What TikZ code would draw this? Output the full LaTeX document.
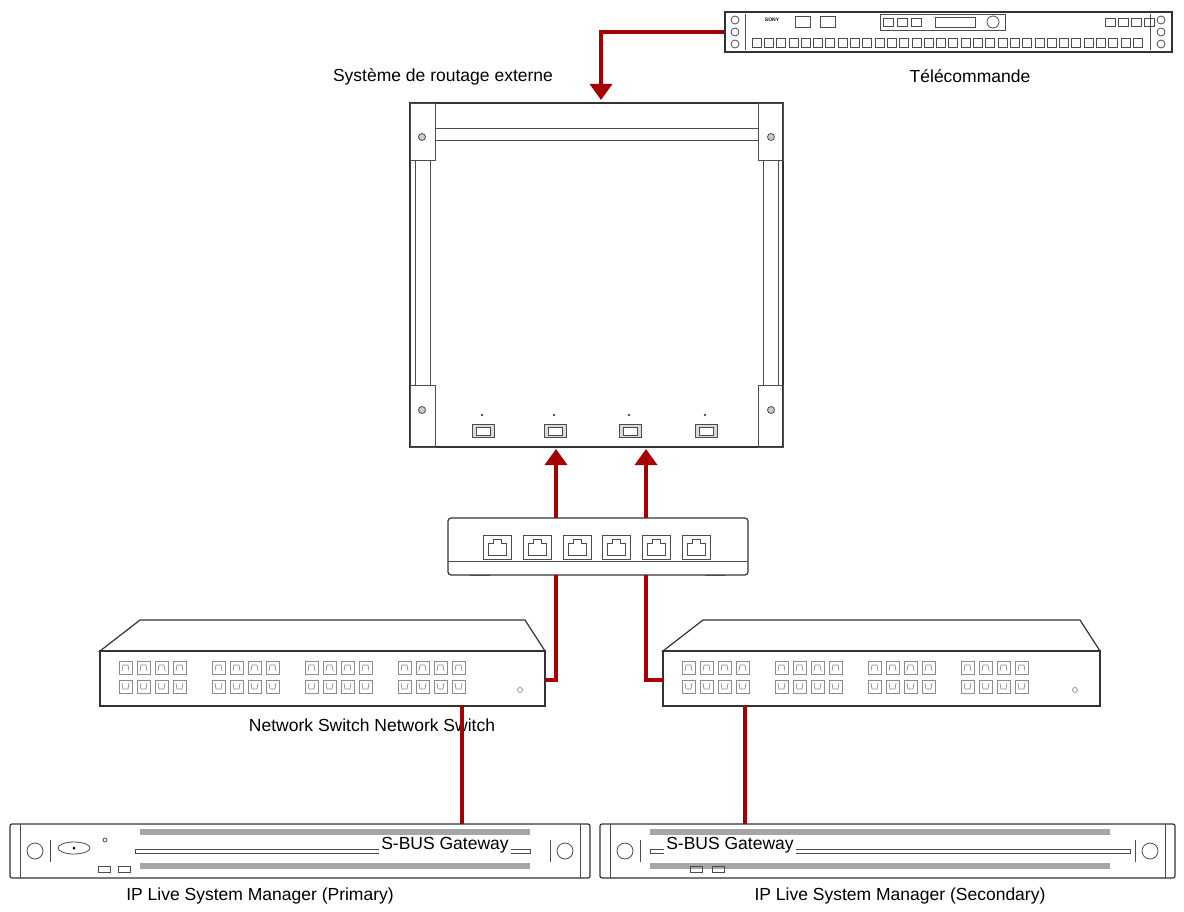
\documentclass[tikz,border=0pt]{standalone}
\usepackage{fontspec}
\setmainfont{Liberation Sans}
\usetikzlibrary{arrows.meta}
\begin{document}
\begin{tikzpicture}[x=1pt,y=-1pt,
  dev/.style={draw=black!80,line width=1.2pt,fill=white},
  thin/.style={draw=black!70,line width=0.8pt},
  port/.style={draw=black!45,line width=0.7pt},
  cable/.style={draw=red!65!black,line width=3.5pt},
  arr/.style={cable,-{Triangle[length=16pt,width=22pt]}},
  lbl/.style={font=\fontsize{17.5}{19}\selectfont,inner sep=1pt}]
\useasboundingbox (0,0) rectangle (1184,912);
% Remote
\node[dev,draw,minimum width=447pt,minimum height=40pt,inner sep=0] (remote) at (948.5,32) {};
\draw[thin] (745,14) -- (745,50) (1150,14) -- (1150,50);
\foreach \y in {20,32,44}{\draw[thin] (735,\y) circle (4); \draw[thin] (1161,\y) circle (4);}
\node[font=\tiny\bfseries] at (772,20) {SONY};
\draw[thin] (795,16) rectangle (810,27) (820,16) rectangle (835,27);
\draw[thin] (880,14) rectangle (1005,30);
\foreach \x in {888,902,916,1110,1123,1136,1149}{\draw[thin] (\x-5,18) rectangle (\x+5,26);}
\draw[thin] (935,17) rectangle (975,27);
\draw[thin] (993,22) circle (6);
\foreach \i in {0,...,31}{\draw[thin] (752+\i*12.3,38) rectangle (761+\i*12.3,47);}
\node[lbl] (telelbl) at (970,76) {Télécommande};
% Router
\node[dev,minimum width=373pt,minimum height=344pt,inner sep=0] (router) at (596.5,275) {};
\draw[thin] (435,128) rectangle (758,140);
\foreach \xa/\xb in {410/435,758/783}{
 \draw[thin] (\xa,103) rectangle (\xb,160);
 \draw[thin] (\xa+5,160) rectangle (\xb-5,385);
 \draw[thin] (\xa,385) rectangle (\xb,447);}
\foreach \p in {(422,137),(771,137),(422,410),(771,410)}{\draw[thin,fill=black!20] \p circle (3.5);}
\foreach \x/\n in {483/p1,555/p2,630/p3,706/p4}{
 \node[draw=black!70,fill=black!15,line width=0.8pt,minimum width=22pt,minimum height=13pt,inner sep=0] (\n) at (\x,431) {};
 \draw[thin,fill=white] (\x-7,427) rectangle (\x+7,435);
 \fill[black!70] (\x-1,415) circle (1.3);}
\node[lbl,anchor=south] (routlbl) at (443,86) {Système de routage externe};
% Hub
\draw[dev,rounded corners=3pt] (448,518) rectangle (748,575);
\node[inner sep=0,minimum width=300pt,minimum height=57pt] (hub) at (598,546.5) {};
\draw[thin] (448,561) -- (748,561);
\draw[thin] (470,575) -- (490,575) (705,575) -- (725,575);
\foreach \x in {497,537,577,616,656,696}{
 \draw[thin] (\x-14,535) rectangle (\x+14,559);
 \draw[thin] (\x-9,555) -- (\x-9,543) -- (\x-4,543) -- (\x-4,539) -- (\x+4,539) -- (\x+4,543) -- (\x+9,543) -- (\x+9,555) -- cycle;}
% Switches
\foreach \L/\R/\n in {100/545/swl,663/1100/swr}{
 \draw[dev] (\L,651) -- (\L+40,620) -- (\R-20,620) -- (\R,651) -- cycle;
 \draw[dev] (\L,651) rectangle (\R,706);
 \node[inner sep=0,minimum width=\R pt-\L pt,minimum height=55pt] (\n) at ({(\L+\R)/2},678.5) {};
 \foreach \g in {0,...,3}{\foreach \k in {0,...,3}{
   \pgfmathsetmacro\px{\L+19+\g*93+\k*18}
   \draw[port] (\px,661) rectangle (\px+13,674);
   \draw[port] (\px+3,671) -- (\px+4,665) -- (\px+9,665) -- (\px+10,671);
   \draw[port] (\px,680) rectangle (\px+13,693);
   \draw[port] (\px+3,683) -- (\px+4,689) -- (\px+9,689) -- (\px+10,683);}}
 \draw[port] (\R-25,690) circle (2.5);}
\node[lbl] (swlbl) at (372,725) {Network Switch Network Switch};
% Gateways
\foreach \L/\R/\n in {10/590/gwl,600/1175/gwr}{
 \draw[dev,rounded corners=2pt] (\L,824) rectangle (\R,878);
 \node[inner sep=0,minimum width=\R pt-\L pt,minimum height=54pt] (\n) at ({(\L+\R)/2},851) {};
 \draw[thin] (\L+10,824) -- (\L+10,878) (\R-10,824) -- (\R-10,878);
 \draw[thin] (\L+25,851) circle (8) (\R-25,851) circle (8);
 \draw[thin] (\L+40,840) -- (\L+40,862) (\R-40,840) -- (\R-40,862);
}
\foreach \y in {832,866}{\fill[black!35] (140,\y-3) rectangle (530,\y+3);}
\draw[thin] (135,849) rectangle (530,853);
\draw[thin] (74,848) ellipse (16 and 6); \fill (74,848) circle (1.5);
\draw[thin] (105,840) circle (2);
\draw[thin] (98,866) rectangle (110,872) (118,866) rectangle (130,872);
\foreach \y in {832,866}{\fill[black!35] (650,\y-3) rectangle (1110,\y+3);}
\draw[thin] (650,849) rectangle (1130,853);
\draw[thin] (690,866) rectangle (702,872) (712,866) rectangle (724,872);
\node[lbl,fill=white,inner sep=2pt] at (445,845) {S-BUS Gateway};
\node[lbl,fill=white,inner sep=2pt] at (730,845) {S-BUS Gateway};
\node[lbl] (gwllbl) at (260,896) {IP Live System Manager (Primary)};
\node[lbl] (gwrlbl) at (900,896) {IP Live System Manager (Secondary)};
% Cables
\coordinate (a1) at (601,32); \coordinate (a2) at (601,100);
\draw[arr] (remote.west) -- (a1) -- (a2);
\coordinate (h1) at (556,518); \coordinate (h1t) at (556,449);
\coordinate (h2) at (646,518); \coordinate (h2t) at (646,449);
\draw[arr] (h1) -- (h1t);
\draw[arr] (h2) -- (h2t);
\coordinate (c1) at (556,575); \coordinate (c1b) at (556,680);
\coordinate (c2) at (646,575); \coordinate (c2b) at (646,680);
\draw[cable] (c1) -- (c1b) -- (swl.east|-c1b);
\draw[cable] (c2) -- (c2b) -- (swr.west|-c2b);
\coordinate (d1) at (462,706); \coordinate (d2) at (745,706);
\draw[cable] (d1) -- (gwl.north-|d1);
\draw[cable] (d2) -- (gwr.north-|d2);
\end{tikzpicture}
\end{document}
